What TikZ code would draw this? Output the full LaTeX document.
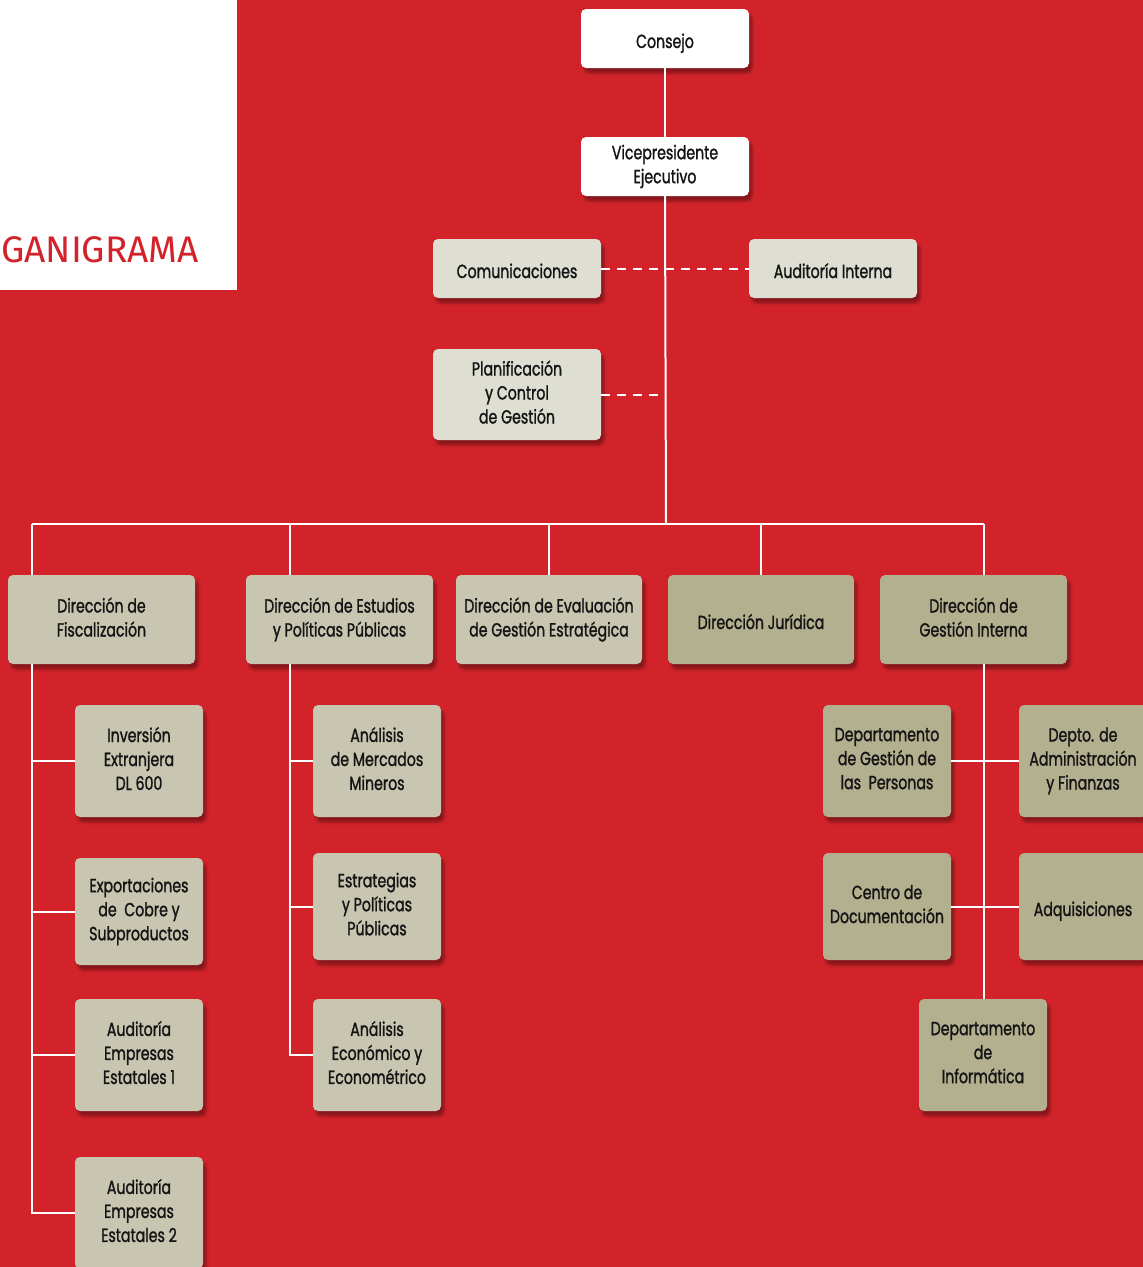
\documentclass[tikz,border=0pt]{standalone}
\usepackage{fontspec}
\setmainfont{Poppins}[FakeStretch=0.745, FakeBold=1.3]
\newfontfamily\titlefont{Fira Sans}
\usetikzlibrary{shadows,shadows.blur,calc}
\definecolor{bgred}{HTML}{D2232A}
\definecolor{paleg}{HTML}{DFDED3}
\definecolor{lightg}{HTML}{C8C6B1}
\definecolor{darkg}{HTML}{B3B08F}
\definecolor{inktext}{HTML}{141414}
\begin{document}
\begin{tikzpicture}[x=1pt,y=-1pt,
  box/.style={rounded corners=5pt, draw=none, align=center,
    font=\fontsize{19}{24}\selectfont, text=inktext, inner sep=0pt,
    execute at begin node={\rule{0pt}{24pt}},
    execute at end node={\rule[-5pt]{0pt}{5pt}},
    blur shadow={shadow blur steps=6, shadow blur extra rounding=2pt,
      shadow xshift=3pt, shadow yshift=-5pt, shadow opacity=35}},
  wbox/.style={box, fill=white},
  pbox/.style={box, fill=paleg},
  lbox/.style={box, fill=lightg},
  dbox/.style={box, fill=darkg},
  link/.style={draw=white, line width=2pt},
  dlink/.style={link, dash pattern=on 9pt off 7pt}]
\useasboundingbox (0,0) rectangle (1143,1267);
\clip (0,0) rectangle (1143,1267);
\fill[bgred] (0,0) rectangle (1143,1267);
\fill[white] (0,0) rectangle (237,290);
\node[anchor=base west, inner sep=0pt, text=bgred, font=\titlefont\fontsize{37}{37}\selectfont] (title) at (1,262) {GANIGRAMA};

% top
\node[wbox, minimum width=168pt, minimum height=59pt] (consejo) at (665,38.5) {Consejo};
\node[wbox, minimum width=168pt, minimum height=59pt] (vp) at (665,166.5) {Vicepresidente\\Ejecutivo};
\node[pbox, minimum width=168pt, minimum height=59pt] (com) at (517,268.5) {Comunicaciones};
\node[pbox, minimum width=168pt, minimum height=59pt] (aud) at (833,268.5) {Auditoría Interna};
\node[pbox, minimum width=168pt, minimum height=91pt] (plan) at (517,394.5) {Planificación\\y Control\\de Gestión};

% directions
\node[lbox, minimum width=187pt, minimum height=89pt] (fis) at (101.5,619.5) {Dirección de\\Fiscalización};
\node[lbox, minimum width=187pt, minimum height=89pt] (est) at (339.5,619.5) {Dirección de Estudios\\y Políticas Públicas};
\node[lbox, minimum width=186pt, minimum height=89pt] (eva) at (549,619.5) {Dirección de Evaluación\\de Gestión Estratégica};
\node[dbox, minimum width=186pt, minimum height=89pt] (jur) at (761,619.5) {Dirección Jurídica};
\node[dbox, minimum width=187pt, minimum height=89pt] (gin) at (973.5,619.5) {Dirección de\\Gestión Interna};

% fiscalizacion children
\node[lbox, minimum width=128pt, minimum height=112pt] (inv) at (139,761) {Inversión\\Extranjera\\DL 600};
\node[lbox, minimum width=128pt, minimum height=107pt] (exp) at (139,911.5) {Exportaciones\\de~ Cobre y\\Subproductos};
\node[lbox, minimum width=128pt, minimum height=112pt] (au1) at (139,1055) {Auditoría\\Empresas\\Estatales 1};
\node[lbox, minimum width=128pt, minimum height=112pt] (au2) at (139,1213) {Auditoría\\Empresas\\Estatales 2};

% estudios children
\node[lbox, minimum width=128pt, minimum height=112pt] (mer) at (377,761) {Análisis\\de Mercados\\Mineros};
\node[lbox, minimum width=128pt, minimum height=107pt] (epp) at (377,906.5) {Estrategias\\y Políticas\\Públicas};
\node[lbox, minimum width=128pt, minimum height=112pt] (eco) at (377,1055) {Análisis\\Económico y\\Econométrico};

% gestion interna children
\node[dbox, minimum width=128pt, minimum height=112pt] (gpe) at (887,761) {Departamento\\de Gestión de\\las~ Personas};
\node[dbox, minimum width=128pt, minimum height=112pt] (adm) at (1083,761) {Depto. de\\Administración\\y Finanzas};
\node[dbox, minimum width=128pt, minimum height=107pt] (doc) at (887,906.5) {Centro de\\Documentación};
\node[dbox, minimum width=128pt, minimum height=107pt] (adq) at (1083,906.5) {Adquisiciones};
\node[dbox, minimum width=128pt, minimum height=112pt] (inf) at (983,1055) {Departamento\\de\\Informática};

% connectors
\coordinate (hub) at (666,524);
\coordinate (bl) at (32,524);
\coordinate (bes) at (290,524);
\coordinate (br) at (984,524);
\draw[link] (consejo.south) -- (vp.north);
\draw[link] (vp.south) -- (hub);
\draw[dlink] (com.east) -- (aud.west);
\draw[dlink] (plan.east) -- (plan.east -| hub);
\draw[link] (bl) -- (br);
\draw[link] (bl) -- (bl |- fis.north);
\draw[link] (bes) -- (bes |- est.north);
\draw[link] (eva.north |- hub) -- (eva.north);
\draw[link] (jur.north |- hub) -- (jur.north);
\draw[link] (br) -- (br |- gin.north);

\draw[link] (bl |- fis.south) -- (bl |- au2.west) -- (au2.west);
\draw[link] (bl |- inv.west) -- (inv.west);
\draw[link] (bl |- exp.west) -- (exp.west);
\draw[link] (bl |- au1.west) -- (au1.west);

\draw[link] (bes |- est.south) -- (bes |- eco.west) -- (eco.west);
\draw[link] (bes |- mer.west) -- (mer.west);
\draw[link] (bes |- epp.west) -- (epp.west);

\draw[link] (br |- gin.south) -- (br |- inf.north);
\draw[link] (gpe.east) -- (adm.west);
\draw[link] (doc.east) -- (adq.west);
\end{tikzpicture}
\end{document}
